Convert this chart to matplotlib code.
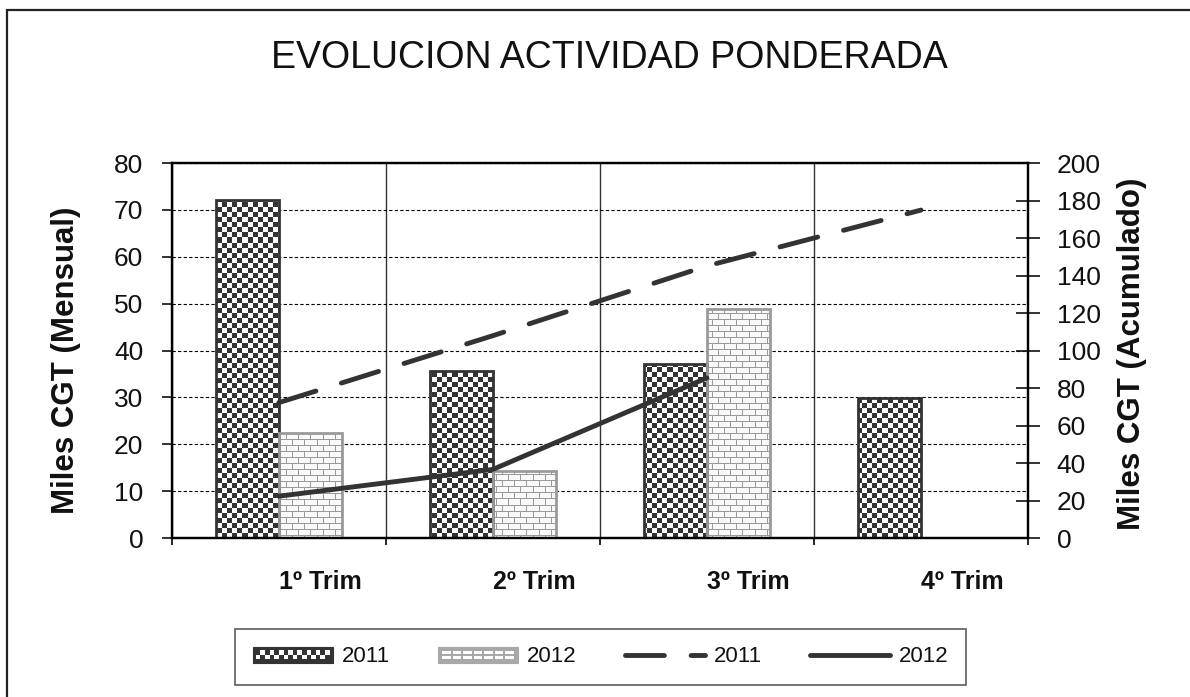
import numpy as np
import matplotlib
matplotlib.use('Agg')
import matplotlib.pyplot as plt
from matplotlib.patches import Rectangle
from matplotlib.lines import Line2D
from matplotlib.legend_handler import HandlerBase

plt.rcParams['font.family'] = ['Liberation Sans', 'DejaVu Sans']

# Datos (miles de CGT)
trimestres = ['1º Trim', '2º Trim', '3º Trim', '4º Trim']
mensual_2011 = [72.2, 35.7, 37.2, 29.8]
mensual_2012 = [22.3, 14.3, 48.8]
acum_2011 = [72.2, 107.9, 145.1, 174.9]
acum_2012 = [22.3, 36.6, 85.4]

_DARK = '#333333'
_BRICK_LINE = '#9a9a9a'
_TEXT = '#111111'

W, H, DPI = 11.9, 6.97, 100
AX_RECT = [0.1443, 0.2281, 0.7196, 0.5380]


def _pattern(kind):
    """Pixel-sized fill texture covering the whole plot area."""
    h = int(round(AX_RECT[3] * H * DPI))
    w = int(round(AX_RECT[2] * W * DPI))
    yy, xx = np.indices((h, w))
    img = np.ones((h, w, 3))
    if kind == 'checker':
        mask = ((xx // 5) + (yy // 5)) % 2 == 0
        img[mask] = 0.2
    else:
        row = yy // 6
        mortar = (yy % 6 == 0) | ((xx + (row % 2) * 6) % 12 == 0)
        img[:] = 0.98
        img[mortar] = 0.6
    return img


def _fill(ax, bars, img):
    for b in bars:
        im = ax.imshow(img, extent=(0, 4, 0, 80), aspect='auto',
                       interpolation='nearest', zorder=2)
        im.set_clip_path(b)


class _Swatch(HandlerBase):
    """Small legend swatch imitating the bar textures."""

    def __init__(self, bg, brick=False):
        super().__init__()
        self.bg = bg
        self.brick = brick

    def create_artists(self, legend, orig_handle, xdescent, ydescent,
                       width, height, fontsize, trans):
        x0, y0 = -xdescent, -ydescent
        arts = [Rectangle((x0, y0), width, height, fc=self.bg, ec=self.bg,
                          lw=0.8, transform=trans)]
        inset = height * 0.2
        rh = (height - 2 * inset) / 2
        if self.brick:
            n = 7
            cw = (width - 2 * inset) / n
            for r in range(2):
                for c in range(n):
                    arts.append(Rectangle((x0 + inset + c * cw + cw * 0.1, y0 + inset + r * rh + rh * 0.15),
                                          cw * 0.8, rh * 0.6, fc='white', ec='none',
                                          transform=trans))
        else:
            n = 16
            cw = (width - 2 * inset) / n
            for r in range(2):
                for c in range(n):
                    if (r + c) % 2 == 0:
                        arts.append(Rectangle((x0 + inset + c * cw, y0 + inset + r * rh),
                                              cw, rh, fc='white', ec='none',
                                              transform=trans))
        return arts


fig = plt.figure(figsize=(W, H), dpi=DPI)
fig.patch.set_facecolor('white')
ax = fig.add_axes(AX_RECT)
ax2 = ax.twinx()

x = np.arange(len(trimestres)) + 0.5
bw = 0.295

bars11 = ax.bar(x[:len(mensual_2011)] - bw / 2, mensual_2011, width=bw,
                facecolor='none', edgecolor=_DARK, linewidth=2.0, zorder=3)
bars12 = ax.bar(x[:len(mensual_2012)] + bw / 2, mensual_2012, width=bw,
                facecolor='none', edgecolor=_BRICK_LINE, linewidth=2.0, zorder=3)
_fill(ax, bars11, _pattern('checker'))
_fill(ax, bars12, _pattern('brick'))

ax2.plot(x[:len(acum_2011)], acum_2011, color=_DARK, lw=3.5,
         dashes=(8, 5.5), dash_capstyle='round', solid_capstyle='round')
ax2.plot(x[:len(acum_2012)], acum_2012, color=_DARK, lw=3.5,
         solid_capstyle='round')

ax.set_xlim(0, 4)
ax.set_ylim(0, 80)
ax2.set_ylim(0, 200)

# grid
ax.set_axisbelow(True)
ax.yaxis.grid(True, linestyle=(0, (3, 2)), color='black', linewidth=0.8)
ax.xaxis.grid(True, which='major', color=_DARK, linewidth=1.0)

for a in (ax, ax2):
    for side in a.spines.values():
        side.set_color('black')
        side.set_linewidth(1.6)

# ticks
ax.set_yticks(range(0, 81, 10))
ax.tick_params(axis='y', direction='out', length=7.5, width=1.2, pad=13,
               labelsize=19, colors=_TEXT)
ax2.set_yticks(range(0, 201, 20))
ax2.tick_params(axis='y', direction='inout', length=17, width=1.2, pad=12,
                labelsize=19, colors=_TEXT)
ax.set_xticks(range(0, 5))
ax.set_xticklabels([])
ax.tick_params(axis='x', which='major', direction='out', length=5, width=1.2)
ax.set_xticks(x, labels=trimestres, minor=True)
ax.tick_params(axis='x', which='minor', length=0, pad=23, labelsize=18,
               colors=_TEXT)
for lbl in ax.get_xticklabels(minor=True):
    lbl.set_fontweight('bold')
    lbl.set_horizontalalignment('left')

ax.set_ylabel('Miles CGT (Mensual)', fontsize=22.5, fontweight='bold', color=_TEXT)
ax.yaxis.label.set_verticalalignment('center')
ax.yaxis.set_label_coords(-0.1234, 0.4747)
ax2.set_ylabel('Miles CGT (Acumulado)', fontsize=22.5, fontweight='bold', color=_TEXT)
ax2.yaxis.label.set_verticalalignment('center')
ax2.yaxis.set_label_coords(1.1215, 0.4907)

fig.text(0.5118, 1 - 58.5 / 697, 'EVOLUCION ACTIVIDAD PONDERADA',
         ha='center', va='center', fontsize=27, color=_TEXT)

# outer chart frame (right/bottom edges fall outside the picture)
fig.add_artist(Rectangle((7 / 1190, -0.1), 1.2, 0.9857 + 0.1,
                         transform=fig.transFigure, fill=False,
                         lw=1.6, ec='#222222'))

# legend
p11 = Rectangle((0, 0), 1, 1)
p12 = Rectangle((0, 0), 1, 1)
l11 = Line2D([], [], color=_DARK, lw=3.5, dashes=(8, 5.5), dash_capstyle='round')
l12 = Line2D([], [], color=_DARK, lw=3.5, solid_capstyle='round')
leg = fig.legend(
    [p11, p12, l11, l12], ['2011', '2012', '2011', '2012'],
    handler_map={p11: _Swatch(_DARK), p12: _Swatch('#a8a8a8', brick=True)},
    loc='center', bbox_to_anchor=(235 / 1190, 12 / 697, 731 / 1190, 56 / 697),
    mode='expand', ncol=4, fontsize=16, handlelength=3.6, handleheight=0.7,
    handletextpad=0.4, borderpad=0.8, borderaxespad=0, fancybox=False,
    labelcolor=_TEXT,
)
leg.get_frame().set_edgecolor('#333333')
leg.get_frame().set_linewidth(1.2)

fig.savefig('out.png', dpi=DPI, facecolor='white')
plt.close(fig)
